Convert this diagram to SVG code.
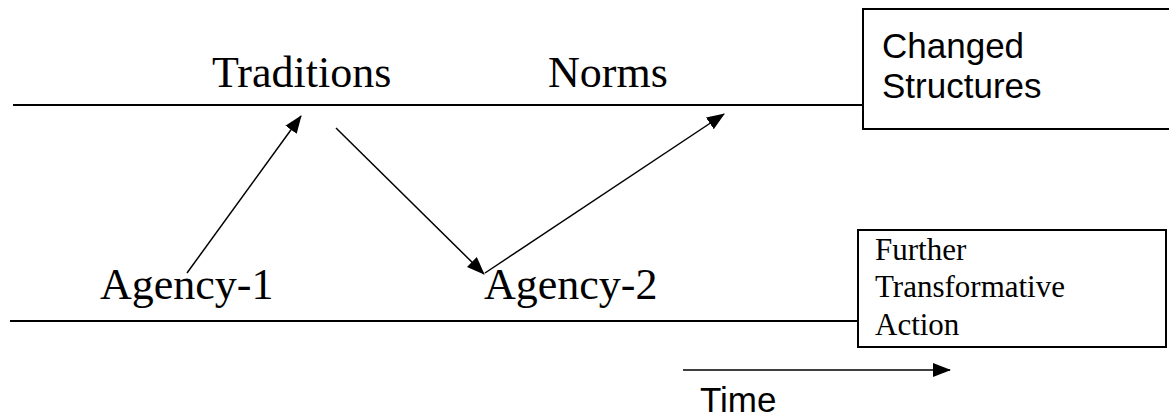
<svg xmlns="http://www.w3.org/2000/svg" width="1169" height="417" viewBox="0 0 1169 417">
<defs>
<style>
.serif{font-family:"Liberation Serif","Times New Roman",serif;fill:#000}
.sans{font-family:"Liberation Sans",Arial,sans-serif;fill:#000}
.ln{stroke:#000;stroke-width:2;fill:none}
.arr{stroke:#000;stroke-width:1.5;fill:none;marker-end:url(#ah)}
.box{stroke:#000;stroke-width:2;fill:#fff}
</style>
<marker id="ah" viewBox="0 0 18 14" refX="17" refY="7" markerWidth="18" markerHeight="14" markerUnits="userSpaceOnUse" orient="auto">
<path d="M0,0 L18,7 L0,14 z" fill="#000"/>
</marker>
</defs>
<g id="connectors">
<line class="ln" x1="13" y1="105" x2="863" y2="105"/>
<line class="ln" x1="10" y1="321" x2="858" y2="321"/>
<line class="arr" x1="187" y1="273" x2="301" y2="116"/>
<line class="arr" x1="336" y1="128" x2="484" y2="274"/>
<line class="arr" x1="485" y1="273" x2="724" y2="114" stroke-width="1.2"/>
<line class="arr" x1="683" y1="370" x2="950" y2="370" stroke-width="2"/>
</g>
<g id="traditions"><text class="serif" x="212" y="87" font-size="44">Traditions</text></g>
<g id="norms"><text class="serif" x="548" y="87" font-size="44">Norms</text></g>
<g id="agency1"><text class="serif" x="100" y="299" font-size="44">Agency-1</text></g>
<g id="agency2"><text class="serif" x="484" y="299" font-size="44">Agency-2</text></g>
<g id="changed">
<rect class="box" x="863" y="9" width="310" height="120"/>
<text class="sans" x="882" y="58" font-size="35">Changed</text>
<text class="sans" x="882" y="98" font-size="35">Structures</text>
</g>
<g id="further">
<rect class="box" x="858" y="230" width="308" height="117"/>
<text class="serif" x="875" y="260" font-size="31">Further</text>
<text class="serif" x="875" y="297" font-size="31">Transformative</text>
<text class="serif" x="875" y="335" font-size="31">Action</text>
</g>
<g id="time"><text class="sans" x="700" y="412" font-size="35">Time</text></g>
</svg>
